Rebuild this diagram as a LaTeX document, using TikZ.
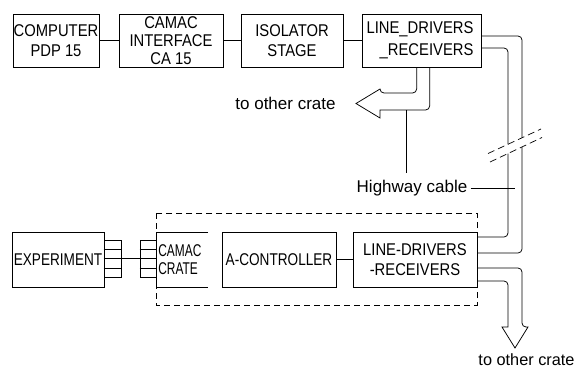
\documentclass[tikz,border=0pt]{standalone}
\usepackage{fontspec}
\usetikzlibrary{calc}
\setmainfont{Liberation Sans}
\newfontfamily\capf[FakeStretch=0.87]{Liberation Sans}
\newfontfamily\capn[FakeStretch=0.80]{Liberation Sans}
\newfontfamily\crf[FakeStretch=0.70]{Liberation Sans}
\begin{document}
\begin{tikzpicture}[x=1pt,y=-1pt,line width=0.75pt,
  box/.style={draw,inner sep=0pt,align=center,font=\capf\fontsize{17}{20}\selectfont},
  plug/.style={draw,inner sep=0pt,minimum height=37pt},
  lbl/.style={inner sep=0pt,font=\fontsize{17}{20}\selectfont},
  brk/.style={line width=0.7pt,dash pattern=on 7pt off 4pt},
  grp/.style={line width=0.7pt,dash pattern=on 6pt off 4pt}]
\fill[white] (0,0) rectangle (581,368);
\useasboundingbox (0,0) rectangle (581,368);
% top row
\node[box,minimum width=86pt,minimum height=53pt] (comp) at (56,40.5) {COMPUTER\\PDP 15};
\node[box,minimum width=104pt,minimum height=53pt,font=\capf\fontsize{17}{18}\selectfont] (cif) at (171,40.5) {CAMAC\\INTERFACE\\CA 15};
\node[box,minimum width=102pt,minimum height=53pt] (iso) at (292,40.5) {ISOLATOR\\STAGE};
\node[box,minimum width=119pt,minimum height=53pt,align=right,font=\capf\fontsize{17}{22}\selectfont] (ldt) at (421.5,40.5) {LINE\_DRIVERS\hspace*{3pt}\\\_RECEIVERS\hspace*{3pt}};
\draw (comp) -- (cif);
\draw (cif) -- (iso);
\draw (iso) -- (ldt);
% bottom row
\node[box,minimum width=92pt,minimum height=55pt,font=\capn\fontsize{17}{20}\selectfont] (exp) at (58,259.5) {EXPERIMENT};
\node[box,minimum width=114pt,minimum height=55pt,font=\capn\fontsize{17}{20}\selectfont] (actl) at (279,259.5) {A-CONTROLLER};
\node[box,minimum width=124pt,minimum height=55pt] (ldb) at (415,259.5) {LINE-DRIVERS\\-RECEIVERS};
\draw (actl) -- (ldb);
% dashed crate group
\draw[grp] (156,213) rectangle (477,305);
% crate
\draw (208,232) -- (156,232) -- (156,287) -- (208,287);
\node[inner sep=0pt,anchor=west,align=left,font=\crf\fontsize{17}{18}\selectfont] (crate) at (158,260) {CAMAC\\CRATE};
% plugs
\node[plug,minimum width=17pt] (p1) at (112.5,258.5) {};
\node[plug,minimum width=16pt] (p2) at (148,258.5) {};
\foreach \p in {p1,p2}{
  \foreach \f in {0.25,0.5,0.75}{
    \draw ($(\p.north west)!\f!(\p.south west)$) -- ($(\p.north east)!\f!(\p.south east)$);
  }
}
\draw (p1) -- (p2);
% highway cables with break
\coordinate (bA1) at (522,137.8);
\coordinate (bA2) at (522,146.9);
\coordinate (bB1) at (508,144.3);
\coordinate (bB2) at (508,153.5);
\draw[rounded corners=4pt] ([yshift=4.5pt]ldt.east) -| (bA1);
\draw[rounded corners=4pt] (bA2) |- ([yshift=6.5pt]ldb.east);
\draw[rounded corners=4pt] ([yshift=-7.5pt]ldt.east) -| (bB1);
\draw[rounded corners=4pt] (bB2) |- ([yshift=22.5pt]ldb.east);
\coordinate (d1a) at (488,153.5);
\coordinate (d1b) at (541,129);
\coordinate (d2a) at (490,162);
\coordinate (d2b) at (542,137.5);
\draw[brk] (d1a) -- (d1b);
\draw[brk] (d2a) -- (d2b);
% top arrow to other crate
\coordinate (ta1) at (380,93);
\coordinate (ta2) at (380,89);
\coordinate (ta3) at (356,103.5);
\coordinate (ta4) at (380,118);
\coordinate (ta5) at (380,110);
\draw[rounded corners=4pt] ([xshift=55pt]ldt.south west) |- (ta1) [sharp corners] -- (ta2) -- (ta3) -- (ta4) -- (ta5) [rounded corners=4pt] -| ([xshift=68pt]ldt.south west);
\node[lbl] (oc1) at (285.5,103) {to other crate};
% bottom arrow to other crate
\coordinate (ba1) at (522,327);
\coordinate (ba2) at (528,327);
\coordinate (ba3) at (515,348);
\coordinate (ba4) at (502,327);
\coordinate (ba5) at (508,327);
\draw[rounded corners=4pt] ([yshift=-8.5pt]ldb.east) -| (ba1) [sharp corners] -- (ba2) -- (ba3) -- (ba4) -- (ba5) [rounded corners=4pt] |- ([yshift=-21.5pt]ldb.east);
\node[lbl,font=\fontsize{16.3}{19}\selectfont] (oc2) at (526.5,360) {to other crate};
% highway cable label
\node[lbl] (hw) at (412,188) {Highway cable};
\coordinate (hl1) at (406,110);
\coordinate (hl2) at (406,173);
\coordinate (hl3) at (515,188);
\draw[line width=0.7pt] (hl1) -- (hl2);
\draw[line width=0.7pt] ([xshift=3pt]hw.east) -- (hl3);
\end{tikzpicture}
\end{document}
